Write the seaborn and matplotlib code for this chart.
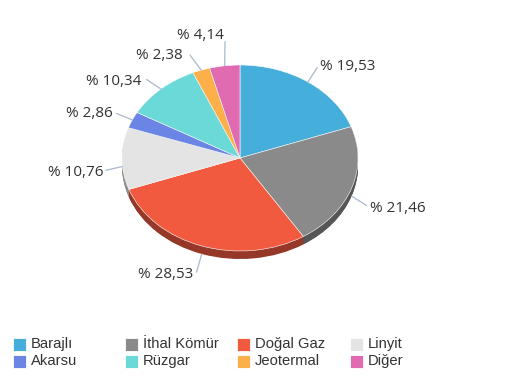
import numpy as np
import matplotlib
matplotlib.use("Agg")
import matplotlib.pyplot as plt
import seaborn as sns
from matplotlib.colors import to_rgb
from matplotlib.patches import Rectangle

# Elektrik üretimi kaynak payları (%), saat yönünde tepeden başlayarak
kaynaklar = ["Barajlı", "İthal Kömür", "Doğal Gaz", "Linyit",
             "Akarsu", "Rüzgar", "Jeotermal", "Diğer"]
paylar = [19.53, 21.46, 28.53, 10.76, 2.86, 10.34, 2.38, 4.14]
renkler = ["#45AEDA", "#8A8A8A", "#F25A3F", "#E4E4E4",
           "#6A85E3", "#6BD9D8", "#FDB04A", "#E06BB1"]
# legend grid order (row-major, 4 columns)
lejant_sirasi = ["Barajlı", "İthal Kömür", "Doğal Gaz", "Linyit",
                 "Akarsu", "Rüzgar", "Jeotermal", "Diğer"]

sns.set_theme(style="white")
palette = sns.color_palette(renkler)

# pie geometry in pixels
W, H = 510, 380
CX, CY = 240, 158
RX, RY = 118, 93
DEPTH = 8


def px_to_data(px, py):
    return (px - CX) / RX, (CY - py) / RY


fig = plt.figure(figsize=(W / 100, H / 100), dpi=100)
ax = fig.add_axes([0, 0, 1, 1])

# 3D side: stacked darker layers, then the top face
side = [tuple(c * 0.62 for c in to_rgb(col)) for col in palette]
n_layers = 12
for i in range(n_layers):
    dy = -(DEPTH / RY) * (1 - i / n_layers)
    ax.pie(paylar, colors=side, startangle=90, counterclock=False,
           center=(0, dy), radius=1.0, wedgeprops=dict(linewidth=0))
wedges, _ = ax.pie(paylar, colors=palette, startangle=90, counterclock=False,
                   center=(0, 0), radius=1.0,
                   wedgeprops=dict(linewidth=0.4, edgecolor="white"))

# labels with leader lines
nudge = {0: (0, -2), 1: (0, 7), 2: (0, 5), 3: (0, 6), 4: (-2, 0), 5: (-6, 4),
         6: (-10, 0), 7: (4, -14)}
cum = np.cumsum([0] + paylar[:-1])
for i, (v, c0) in enumerate(zip(paylar, cum)):
    theta = np.deg2rad((c0 + v / 2) / 100 * 360)
    s, c = np.sin(theta), np.cos(theta)
    ex, ey = CX + RX * s, CY - RY * c
    if c < 0:
        ey += DEPTH
    lx, ly = ex + 16 * s, ey - 16 * c
    dx, dyn = nudge.get(i, (0, 0))
    tx, ty = lx + dx + (3 if s >= 0 else -3), ly + dyn
    ax.plot(*zip(px_to_data(ex, ey), px_to_data(lx + dx * 0.6, ly + dyn * 0.6)),
            color="#A9B8CC", lw=0.9)
    ax.text(*px_to_data(tx, ty), f"% {v:.2f}".replace(".", ","),
            ha="left" if s >= 0 else "right", va="center",
            fontsize=11, color="#333333", family="Open Sans")

ax.set_aspect("auto")
ax.set_xlim(-CX / RX, (W - CX) / RX)
ax.set_ylim((CY - H) / RY, CY / RY)
ax.axis("off")

# legend drawn as a fixed 4x2 grid (equal column widths as in the original)
col_x = [13, 125, 237, 350]
row_y = [344, 361]
for k, name in enumerate(lejant_sirasi):
    r, cidx = divmod(k, 4)
    x0, y0 = col_x[cidx], row_y[r]
    col = palette[kaynaklar.index(name)]
    fig.add_artist(Rectangle(((x0) / W, 1 - (y0 + 6.5) / H), 13 / W, 13 / H,
                             transform=fig.transFigure, facecolor=col,
                             edgecolor="white", linewidth=0.6))
    fig.text((x0 + 18) / W, 1 - y0 / H, name, ha="left", va="center",
             fontsize=10.6, color="#333333", family="Liberation Sans")

fig.savefig("out.png", dpi=100)
